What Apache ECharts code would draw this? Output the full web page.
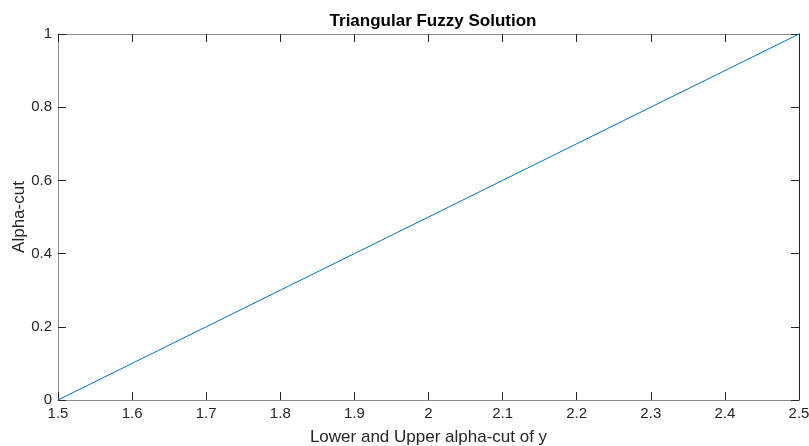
<!DOCTYPE html>
<html><head><meta charset="utf-8">
<script src="https://cdn.jsdelivr.net/npm/echarts@6/dist/echarts.min.js"></script>
<style>html,body{margin:0;padding:0;background:#fff;}#c{width:809px;height:446px;}</style>
</head><body><div id="c"></div>
<script>
var alphaValues = [0, 0.1, 0.2, 0.3, 0.4, 0.5, 0.6, 0.7, 0.8, 0.9, 1];
var cutValues = [1.5, 1.6, 1.7, 1.8, 1.9, 2.0, 2.1, 2.2, 2.3, 2.4, 2.5];
var titleText = 'Triangular Fuzzy Solution';
var xLabel = 'Lower and Upper alpha-cut of y';
var yLabel = 'Alpha-cut';

var pts = cutValues.map(function (x, i) { return [x, alphaValues[i]]; });
var font = 'Liberation Sans, Arial, Helvetica, sans-serif';
var tickCol = '#262626';
var lineCol = '#8c8c8c';

function axisBase(extra) {
  var a = {
    axisLine: { show: true, onZero: false, lineStyle: { color: lineCol, width: 1 } },
    axisTick: { show: true, inside: true, length: 8, lineStyle: { color: tickCol } },
    splitLine: { show: false },
    nameMoveOverlap: false,
    axisLabel: { color: tickCol, fontSize: 15, fontFamily: font, margin: 6 }
  };
  for (var k in extra) a[k] = extra[k];
  return a;
}

var chart = echarts.init(document.getElementById('c'));
chart.setOption({
  animation: false,
  title: {
    text: titleText, left: 428, top: 8, textAlign: 'center',
    textStyle: { fontSize: 17, fontWeight: 'bold', color: '#000', fontFamily: font }
  },
  grid: { left: 58, right: 10, top: 34, bottom: 46, outerBoundsMode: 'none', containLabel: false },
  xAxis: [
    axisBase({ type: 'value', min: 1.5, max: 2.5, interval: 0.1, position: 'bottom',
      name: xLabel, nameLocation: 'middle', nameGap: 29,
      nameTextStyle: { fontSize: 17, color: tickCol, fontFamily: font } }),
    axisBase({ type: 'value', min: 1.5, max: 2.5, interval: 0.1, position: 'top',
      axisLabel: { show: false } })
  ],
  yAxis: [
    axisBase({ type: 'value', min: 0, max: 1, interval: 0.2, position: 'left',
      axisLabel: { color: tickCol, fontSize: 15, fontFamily: font, margin: 6 },
      name: yLabel, nameLocation: 'middle', nameGap: 30, nameRotate: 90,
      nameTextStyle: { fontSize: 17, color: tickCol, fontFamily: font } }),
    axisBase({ type: 'value', min: 0, max: 1, interval: 0.2, position: 'right',
      axisLine: { show: true, onZero: false, lineStyle: { color: tickCol, width: 1 } },
      axisLabel: { show: false } })
  ],
  series: [{
    type: 'line', data: pts, xAxisIndex: 0, yAxisIndex: 0,
    showSymbol: false, symbol: 'none',
    lineStyle: { color: '#0072BD', width: 1 }
  }]
});
</script></body></html>
